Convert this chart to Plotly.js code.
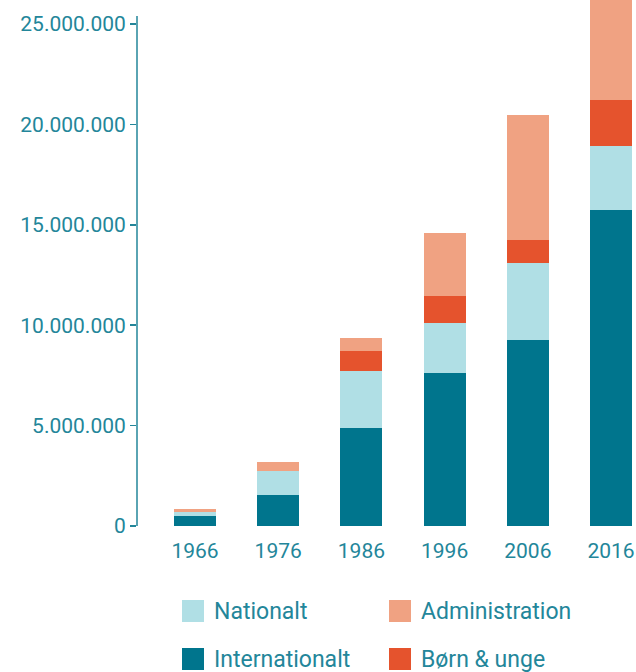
<!DOCTYPE html>
<html>
<head>
<meta charset="utf-8">
<script src="https://cdn.plot.ly/plotly-3.0.1.min.js"></script>
<style>html,body{margin:0;padding:0;background:#fff;} #chart{width:636px;height:672px;}</style>
</head>
<body>
<div id="chart"></div>
<script>
// ---- data ----
const years = ["1966", "1976", "1986", "1996", "2006", "2016"];
const internationalt = [480000, 1520000, 4860000, 7640000, 9240000, 15760000];
const nationalt = [230000, 1200000, 2840000, 2490000, 3880000, 3190000];
const boernUnge = [0, 0, 1000000, 1340000, 1150000, 2290000];
const administration = [150000, 450000, 650000, 3140000, 6180000, 5600000];
const seriesNames = ["Internationalt", "Nationalt", "Børn & unge", "Administration"];
const yTicks = [0, 5000000, 10000000, 15000000, 20000000, 25000000];

// ---- style ----
const colors = {
  "Internationalt": "#00758d",
  "Nationalt": "#b0dfe5",
  "Børn & unge": "#e5532d",
  "Administration": "#f0a282"
};
const textColor = "#23869a";
const fontFam = "Roboto, 'Open Sans', sans-serif";

const W = 636, H = 672, mL = 137, mR = 0, mT = 0, mB = 146;
const plotW = W - mL - mR, plotH = H - mT - mB;
const px2x = px => (px - mL) / plotW;
const px2y = py => (H - mB - py) / plotH;

const values = [internationalt, nationalt, boernUnge, administration];
const traces = seriesNames.map((n, i) => ({
  type: "bar",
  name: n,
  x: years,
  y: values[i],
  marker: { color: colors[n], line: { width: 0 } },
  showlegend: false,
  hoverinfo: "x+y+name"
}));

// manual legend (2 x 2 grid)
const legendItems = [
  { name: "Nationalt", sx: 182, sy: 600 },
  { name: "Administration", sx: 389, sy: 600 },
  { name: "Internationalt", sx: 182, sy: 648 },
  { name: "Børn & unge", sx: 389, sy: 648 }
];
const shapes = [];
const annotations = [];
legendItems.forEach(it => {
  shapes.push({
    type: "rect", xref: "paper", yref: "paper",
    x0: px2x(it.sx), x1: px2x(it.sx + 22),
    y0: px2y(it.sy + 22), y1: px2y(it.sy),
    fillcolor: colors[it.name], line: { width: 0 }
  });
  annotations.push({
    xref: "paper", yref: "paper",
    x: px2x(it.sx + 30), y: px2y(it.sy + 11),
    xanchor: "left", yanchor: "middle",
    text: it.name, showarrow: false,
    font: { family: fontFam, size: 23, color: textColor }
  });
});
// y axis line (stops a bit below the top)
const yAxisTop = (H - mB - 16) / plotH;
shapes.push({
  type: "line", xref: "paper", yref: "paper",
  x0: 0, x1: 0, y0: 0, y1: yAxisTop,
  line: { color: textColor, width: 1.5 }
});

const layout = {
  width: W, height: H,
  margin: { l: mL, r: mR, t: mT, b: mB, pad: 0 },
  barmode: "stack",
  bargap: 0.495,
  separators: ",.",
  paper_bgcolor: "#fff",
  plot_bgcolor: "#fff",
  showlegend: false,
  font: { family: fontFam, color: textColor, size: 21 },
  xaxis: {
    type: "category",
    range: [-0.697, 5.3],
    showgrid: false, zeroline: false, showline: false,
    ticks: "",
    ticklabelstandoff: 10,
    tickfont: { family: fontFam, size: 21, color: textColor },
    fixedrange: true
  },
  yaxis: {
    range: [0, 26200000],
    tickvals: yTicks,
    tickformat: ",d",
    showgrid: false, zeroline: false, showline: false,
    ticks: "outside", ticklen: 6, tickwidth: 1.5, tickcolor: textColor,
    tickfont: { family: fontFam, size: 21, color: textColor },
    fixedrange: true
  },
  shapes: shapes,
  annotations: annotations
};

Plotly.newPlot("chart", traces, layout, { displayModeBar: false, staticPlot: true });
</script>
</body>
</html>
